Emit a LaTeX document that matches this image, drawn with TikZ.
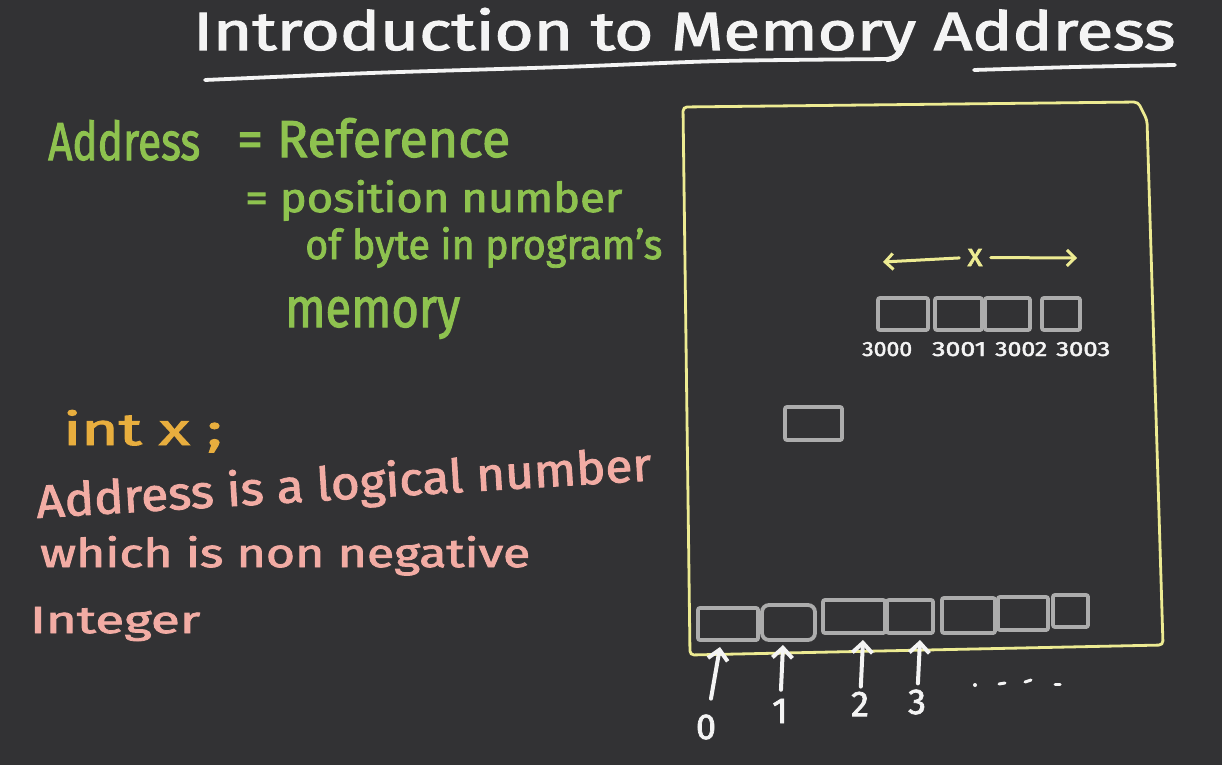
\documentclass[tikz,border=0pt]{standalone}
\usepackage{fontspec}
\setmainfont{Fira Sans}[FakeBold=2]
\usepackage{graphicx}
\usetikzlibrary{arrows.meta}
\definecolor{bg}{HTML}{323234}
\definecolor{chalk}{HTML}{F4F4F4}
\definecolor{cgreen}{HTML}{8EC24F}
\definecolor{corange}{HTML}{E8AE3E}
\definecolor{cpink}{HTML}{F2ACA4}
\definecolor{cyellow}{HTML}{EDEB92}
\definecolor{cgray}{HTML}{ACACAC}
\newcommand{\hw}[3]{\resizebox{#1pt}{#2pt}{#3}}
\begin{document}
\begin{tikzpicture}[x=1pt,y=-1pt,
  txt/.style={inner sep=0pt, anchor=base west},
  cell/.style={draw=cgray, line width=3.8pt, rounded corners=2pt, inner sep=0pt},
  frame/.style={draw=cyellow, line width=2.8pt, rounded corners=4pt},
  arr/.style={draw=chalk, line width=4pt, line cap=round, -{Straight Barb[length=10pt,width=20pt]}},
  yarr/.style={draw=cyellow, line width=3pt, line cap=round, -{Straight Barb[length=8pt,width=16pt]}},
  uline/.style={draw=chalk, line width=3.8pt, line cap=round},
  digit/.style={inner sep=0pt, text=chalk, font=\fontsize{36}{38}\selectfont}]
\useasboundingbox (0,0) rectangle (1222,765);
\fill[bg] (0,0) rectangle (1222,765);

% title
\node[txt, text=chalk] (title) at (193,50) {\hw{982}{42}{Introduction to Memory Address}};
\draw[uline] plot[smooth] coordinates {(205,80) (371,73) (563,67) (722,61) (894,59)};
\draw[uline] plot[smooth] coordinates {(974,70) (1075,67) (1175,65)};

% green definition
\node[txt, text=cgreen] (g1) at (48,160) {\hw{152}{40}{Address}};
\node[txt, text=cgreen] (g2) at (237,157) {\hw{273}{39}{= Reference}};
\node[txt, text=cgreen] (g3) at (245,212) {\hw{377}{32}{= position number}};
\node[txt, text=cgreen] (g4) at (305,259) {\hw{357}{32}{of byte in program’s}};
\node[txt, text=cgreen] (g5) at (285,327) {\hw{175}{30}{memory}};

% orange and pink
\node[txt, text=corange] (o1) at (63,445) {\hw{159}{35}{int x ;}};
\node[txt, text=cpink, rotate=3.5] (p1) at (37,518) {\hw{616}{36}{Address is a logical number}};
\node[txt, text=cpink] (p2) at (40,567) {\hw{490}{31}{which is non negative}};
\node[txt, text=cpink] (p3) at (30,633) {\hw{170}{26}{Integer}};

% memory frame
\draw[frame] (683,107) -- (1138,102) -- (1147,120) -- (1163,645) -- (690,655) -- cycle;

% x span
\node[inner sep=0pt, anchor=base, text=cyellow] (xl) at (975,266) {\hw{15}{17}{x}};
\coordinate (xa) at (883,262);
\coordinate (xb) at (1077,258);
\draw[yarr, shorten <=8pt] (xl.west) -- (xa);
\draw[yarr, shorten <=8pt] (xl.east) -- (xb);

% top cells
\node[cell, minimum width=50pt, minimum height=32pt] (t1) at (903,314) {};
\node[cell, minimum width=47pt, minimum height=32pt] (t2) at (958.5,314) {};
\node[cell, minimum width=45pt, minimum height=32pt] (t3) at (1007.5,314) {};
\node[cell, minimum width=38pt, minimum height=32pt] (t4) at (1061,314) {};
\node[txt, text=chalk] (a0) at (862,356) {\hw{50}{14}{3000}};
\node[txt, text=chalk] (a1) at (932,356) {\hw{54}{14}{3001}};
\node[txt, text=chalk] (a2) at (995,356) {\hw{52}{14}{3002}};
\node[txt, text=chalk] (a3) at (1056,356) {\hw{54}{14}{3003}};

% middle cell
\node[cell, minimum width=57pt, minimum height=33pt] (m) at (813.5,423.5) {};

% bottom cells
\node[cell, minimum width=60pt, minimum height=32pt] (b1) at (728,624) {};
\node[cell, minimum width=53pt, minimum height=35pt, rounded corners=7pt] (b2) at (788.5,622.5) {};
\node[cell, minimum width=62pt, minimum height=33pt] (b3) at (854,616.5) {};
\node[cell, minimum width=46pt, minimum height=33pt] (b4) at (910,616.5) {};
\node[cell, minimum width=53pt, minimum height=35pt] (b5) at (968.5,615.5) {};
\node[cell, minimum width=50pt, minimum height=33pt] (b6) at (1023,613.5) {};
\node[cell, minimum width=35pt, minimum height=32pt] (b7) at (1070.5,611) {};

% index labels and arrows
\node[digit] (l0) at (706,727) {0};
\node[digit] (l1) at (780,711) {1};
\node[digit] (l2) at (860,704) {2};
\node[digit] (l3) at (917,702) {3};
\coordinate (p0) at (720,647);
\coordinate (p1) at (783,645);
\coordinate (p2) at (863,640);
\coordinate (p3) at (920,640);
\draw[arr, shorten <=16pt] (l0) -- (p0);
\draw[arr, shorten <=9pt] (l1) -- (p1);
\draw[arr, shorten <=5pt] (l2) -- (p2);
\draw[arr, shorten <=6pt] (l3) -- (p3);

% continuation dots
\fill[chalk] (975,685) circle (2pt);
\draw[draw=chalk, line width=3pt, line cap=round] (999,684) -- (1005,683);
\draw[draw=chalk, line width=3pt, line cap=round] (1025,682) -- (1031,680);
\draw[draw=chalk, line width=3pt, line cap=round] (1055,684) -- (1060,684);
\end{tikzpicture}
\end{document}
